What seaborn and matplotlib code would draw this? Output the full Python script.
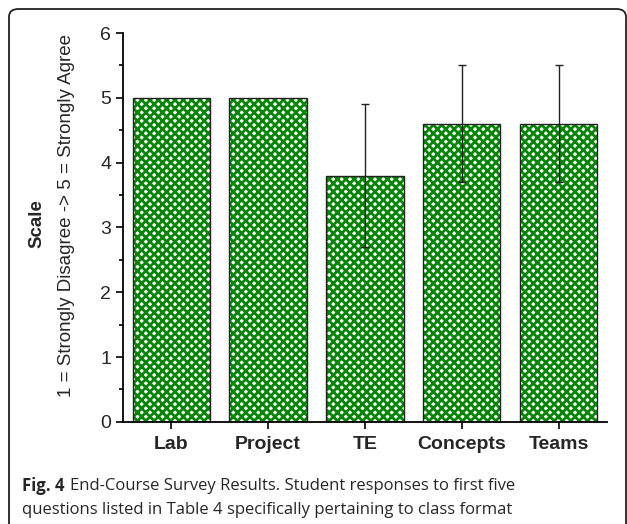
import numpy as np
import pandas as pd
import matplotlib
matplotlib.use("Agg")
import matplotlib.pyplot as plt
from matplotlib.patches import FancyBboxPatch
from matplotlib.ticker import MultipleLocator
import seaborn as sns

# survey questions and mean scores
categories = ["Lab", "Project", "TE", "Concepts", "Teams"]
means = [5.0, 5.0, 3.8, 4.6, 4.6]
errors = [0.0, 0.0, 1.1, 0.9, 0.9]

y_ticks = [0, 1, 2, 3, 4, 5, 6]

GREEN = "#078507"

sns.set_style("ticks")
plt.rcParams["font.family"] = ["Liberation Sans", "DejaVu Sans"]
plt.rcParams["hatch.linewidth"] = 2.0

df = pd.DataFrame({"question": categories, "score": means})

fig = plt.figure(figsize=(6.27, 5.24), dpi=100)
ax = fig.add_axes([0.196, 0.195, 0.772, 0.742])

# hatched fill (hatch colour follows edge colour, so fill and outline drawn separately)
sns.barplot(data=df, x="question", y="score", ax=ax, color="white",
            edgecolor=GREEN, linewidth=0, width=0.8, errorbar=None)
for p in ax.patches:
    p.set_hatch("xxxx")
sns.barplot(data=df, x="question", y="score", ax=ax, fill=False,
            edgecolor="#222222", linewidth=1.0, width=0.8, errorbar=None)

pos = np.arange(len(categories))
err_mask = np.array(errors) > 0
ax.errorbar(pos[err_mask], np.array(means)[err_mask],
            yerr=np.array(errors)[err_mask], fmt="none",
            ecolor="#222222", elinewidth=1.0, capsize=3.2, capthick=1.0, zorder=5)

ax.set_xlim(-0.5, len(categories) - 0.5)
ax.set_ylim(0, 6)
ax.set_yticks(y_ticks)
ax.yaxis.set_minor_locator(MultipleLocator(0.5))
ax.tick_params(axis="y", which="major", length=5, width=1.2, labelsize=14, color="black")
ax.tick_params(axis="y", which="minor", length=3, width=1.2, color="black")
ax.tick_params(axis="x", length=5, width=1.2, labelsize=14, color="black", pad=5.5)
for lbl in ax.get_xticklabels():
    lbl.set_fontweight("bold")
ax.set_xlabel("")
ax.set_ylabel("")
sns.despine(ax=ax)
for s in ["left", "bottom"]:
    ax.spines[s].set_linewidth(1.3)
    ax.spines[s].set_color("black")

# two-line y label: bold title, plain description
ax.text(-0.178, 0.51, "Scale", transform=ax.transAxes, rotation=90,
        ha="center", va="center", fontsize=13.5, fontweight="bold")
ax.text(-0.116, 0.53, "1 = Strongly Disagree -> 5 = Strongly Agree",
        transform=ax.transAxes, rotation=90, ha="center", va="center", fontsize=13.5)

# rounded frame around figure + caption
frame = FancyBboxPatch((9 / 627, -0.05), 617 / 627, 1 - 9 / 524 + 0.05,
                       boxstyle="round,pad=0,rounding_size=0.015",
                       transform=fig.transFigure, fill=False,
                       edgecolor="#222222", linewidth=1.3, clip_on=False)
fig.patches.append(frame)

cap_font = ["Open Sans", "DejaVu Sans"]
fig_lbl = fig.text(22 / 627, 1 - 486 / 524, "Fig. 4", fontsize=12, fontweight="bold",
                   family=cap_font, va="center", ha="left")
fig.canvas.draw()
bb = fig_lbl.get_window_extent()
fig.text(bb.x1 / fig.bbox.width + 5 / 627, 1 - 486 / 524,
         "End-Course Survey Results. Student responses to first five",
         fontsize=12, family=cap_font, va="center", ha="left")
fig.text(22 / 627, 1 - 510 / 524,
         "questions listed in Table 4 specifically pertaining to class format",
         fontsize=12, family=cap_font, va="center", ha="left")

fig.savefig("out.png", dpi=100)
